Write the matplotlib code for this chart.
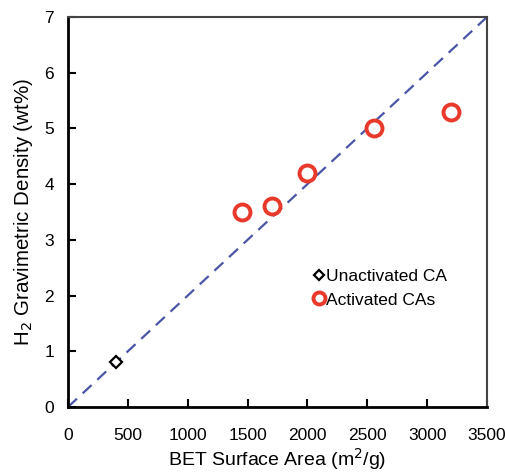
import matplotlib
matplotlib.use("Agg")
import matplotlib.pyplot as plt
import numpy as np

plt.rcParams['font.family'] = ['Liberation Sans', 'DejaVu Sans']

# data
unact_area = [400]
unact_h2 = [0.8]
act_area = [1450, 1700, 2000, 2560, 3200]
act_h2 = [3.5, 3.6, 4.2, 5.0, 5.3]
fit_x = [0, 3500]
fit_slope = 0.002  # wt% per m2/g

fig = plt.figure(figsize=(5.05, 4.74), dpi=100)
ax = fig.add_axes([68/505, 1 - 407/474, 419/505, 390/474])

ax.plot(fit_x, np.array(fit_x) * fit_slope, ls=(0, (5.5, 3.5)), color='#4b55a6', lw=1.6, zorder=1)
ax.plot(unact_area, unact_h2, ls='none', marker='D', ms=6.5, mfc='white', mec='black', mew=1.6,
        label='Unactivated CA', zorder=3)
ax.plot(act_area, act_h2, ls='none', marker='o', ms=11.5, mfc='white', mec='#e8392b', mew=2.8,
        label='Activated CAs', zorder=3)

ax.set_xlim(0, 3500)
ax.set_ylim(0, 7)
ax.set_xticks(np.arange(0, 3501, 500))
ax.set_yticks(np.arange(0, 8, 1))
ax.tick_params(axis='x', direction='in', length=6, width=1.5, pad=15, labelsize=12.5)
ax.tick_params(axis='y', direction='in', length=6, width=1.5, pad=10, labelsize=12.5)
for s in ['left', 'bottom']:
    ax.spines[s].set_linewidth(2)
for s in ['top', 'right']:
    ax.spines[s].set_linewidth(1.5)
    ax.spines[s].set_color('#444444')

ax.set_xlabel('BET Surface Area (m$^2$/g)', fontsize=14, labelpad=2)
ax.set_ylabel('H$_2$ Gravimetric Density (wt%)', fontsize=14.8, labelpad=7)

ax.legend(loc='center left', bbox_to_anchor=(0.565, 0.305), frameon=False, fontsize=12.5,
          handlelength=0.6, handletextpad=0.15, borderpad=0, labelspacing=0.5, markerscale=0.75)

fig.savefig('out.png', dpi=100)
